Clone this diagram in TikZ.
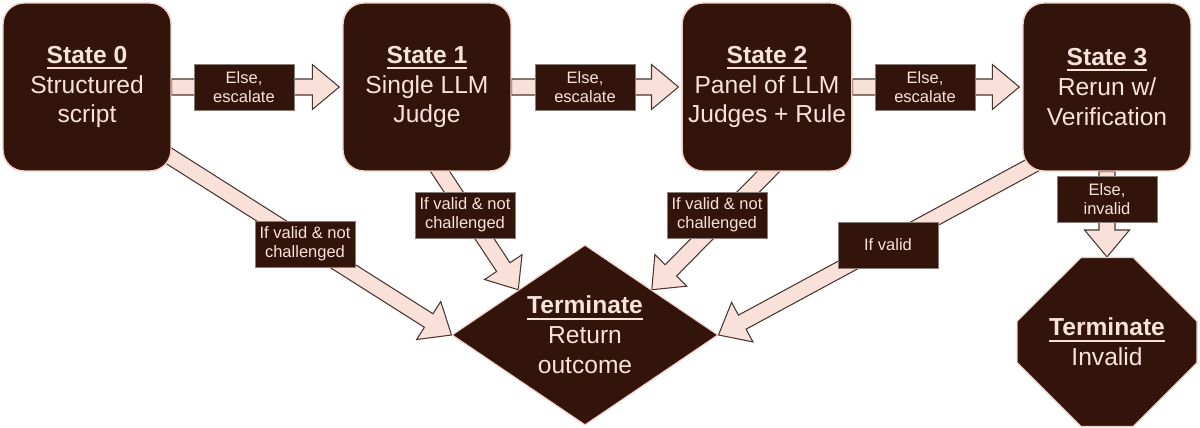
\documentclass[tikz,border=0pt]{standalone}
\usepackage{fontspec}
\setmainfont{Liberation Sans}
\usetikzlibrary{calc,shapes.geometric,shapes.misc,backgrounds}

\definecolor{stateFill}{HTML}{33140A}
\definecolor{stateText}{HTML}{F7E2DC}
\definecolor{stateLine}{HTML}{F2CCC3}
\definecolor{arrowFill}{HTML}{F9E1DA}
\definecolor{arrowLine}{HTML}{4A3530}
\definecolor{labelLine}{HTML}{8C7C78}

\tikzset{
	statebox/.style={rectangle, rounded corners=0.42cm, fill=stateFill, draw=stateLine, line width=0.8pt,
		minimum width=3.36cm, minimum height=3.36cm, text=stateText, align=center,
		font=\fontsize{14}{17}\selectfont},
	endstate/.style={fill=stateFill, draw=stateLine, line width=0.6pt, inner sep=0pt,
		text=stateText, align=center, font=\fontsize{14}{17}\selectfont},
	lbl/.style={rectangle, fill=stateFill, draw=labelLine, line width=0.5pt, inner sep=0pt,
		minimum width=2cm, minimum height=0.92cm, text=stateText, align=center,
		font=\fontsize{9.4}{10.8}\selectfont},
	flowarrow/.style={fill=arrowFill, draw=arrowLine, line width=0.6pt}
}

% fat arrow from #1 to #2
\newcommand{\blockarrow}[2]{%
	\draw[flowarrow] let \p1=($(#2)-(#1)$), \n1={atan2(\y1,\x1)}, \n2={veclen(\x1,\y1)-0.54cm} in
		($(#1)+(\n1+90:0.16cm)$) -- ++(\n1:\n2) -- ++(\n1+90:0.29cm) -- (#2)
		-- ($(#1)+(\n1:\n2)+(\n1-90:0.45cm)$) -- ++(\n1+90:0.29cm)
		-- ($(#1)+(\n1-90:0.16cm)$) -- cycle;}

\newcommand{\statetitle}[1]{\setbox0=\hbox{\textbf{#1}}\rlap{\rule[-3.3pt]{\wd0}{1.1pt}}\box0}

\begin{document}
\begin{tikzpicture}[x=0.02cm, y=-0.02cm]
		\useasboundingbox (0,0) rectangle (1200,428);
		
		%states
		\node (s0) at (87,87) [statebox] {\statetitle{State 0}\\Structured\\script};
		\node (s1) at (427,87) [statebox] {\statetitle{State 1}\\Single LLM\\Judge};
		\node (s2) at (767,87) [statebox] {\statetitle{State 2}\\Panel of LLM\\Judges + Rule};
		\node (s3) at (1107,87) [statebox] {\statetitle{State 3}\\Rerun w/\\Verification};
		
		%end states
		\node (ret) at (585,335) [diamond, endstate, aspect=1.48, minimum width=5.32cm, minimum height=3.6cm]
			{\statetitle{Terminate}\\Return\\outcome};
		\node (inv) at (1107,342) [chamfered rectangle, endstate, minimum width=3.6cm, minimum height=3.38cm,
			chamfered rectangle xsep=1cm, chamfered rectangle ysep=0.8cm] {\statetitle{Terminate}\\Invalid};
		
		%arrows
		\begin{scope}[on background layer]
			\foreach \i/\j in {0/1, 1/2, 2/3}{
				\coordinate (e\j) at ($(s\j.west)+(-3,0)$);
				\blockarrow{s\i.east}{e\j}
			}
			\coordinate (a0) at ($(s0.south east)+(-11,-21)$);
			\coordinate (a1) at ($(s1.south)+(0,-20)$);
			\coordinate (a2) at ($(s2.south)+(21,-20)$);
			\coordinate (a3) at ($(s3.south west)+(37,-21)$);
			\blockarrow{a0}{ret.west}
			\blockarrow{a1}{ret.north west}
			\blockarrow{a2}{ret.north east}
			\blockarrow{a3}{ret.east}
			\blockarrow{s3.south}{inv.north}
		\end{scope}
		
		%labels
		\foreach \x/\n in {244/1, 585/2, 925/3}{
			\node (esc\n) at (\x,87) [lbl] {Else,\\escalate};
		}
		\node (ok0) at (305,244) [lbl] {If valid \& not\\challenged};
		\node (ok1) at (465,215) [lbl] {If valid \& not\\challenged};
		\node (ok2) at (717,215) [lbl] {If valid \& not\\challenged};
		\node (ok3) at (888,245) [lbl] {If valid};
		\node (bad) at (1107,199) [lbl] {Else,\\invalid};
\end{tikzpicture}
\end{document}
